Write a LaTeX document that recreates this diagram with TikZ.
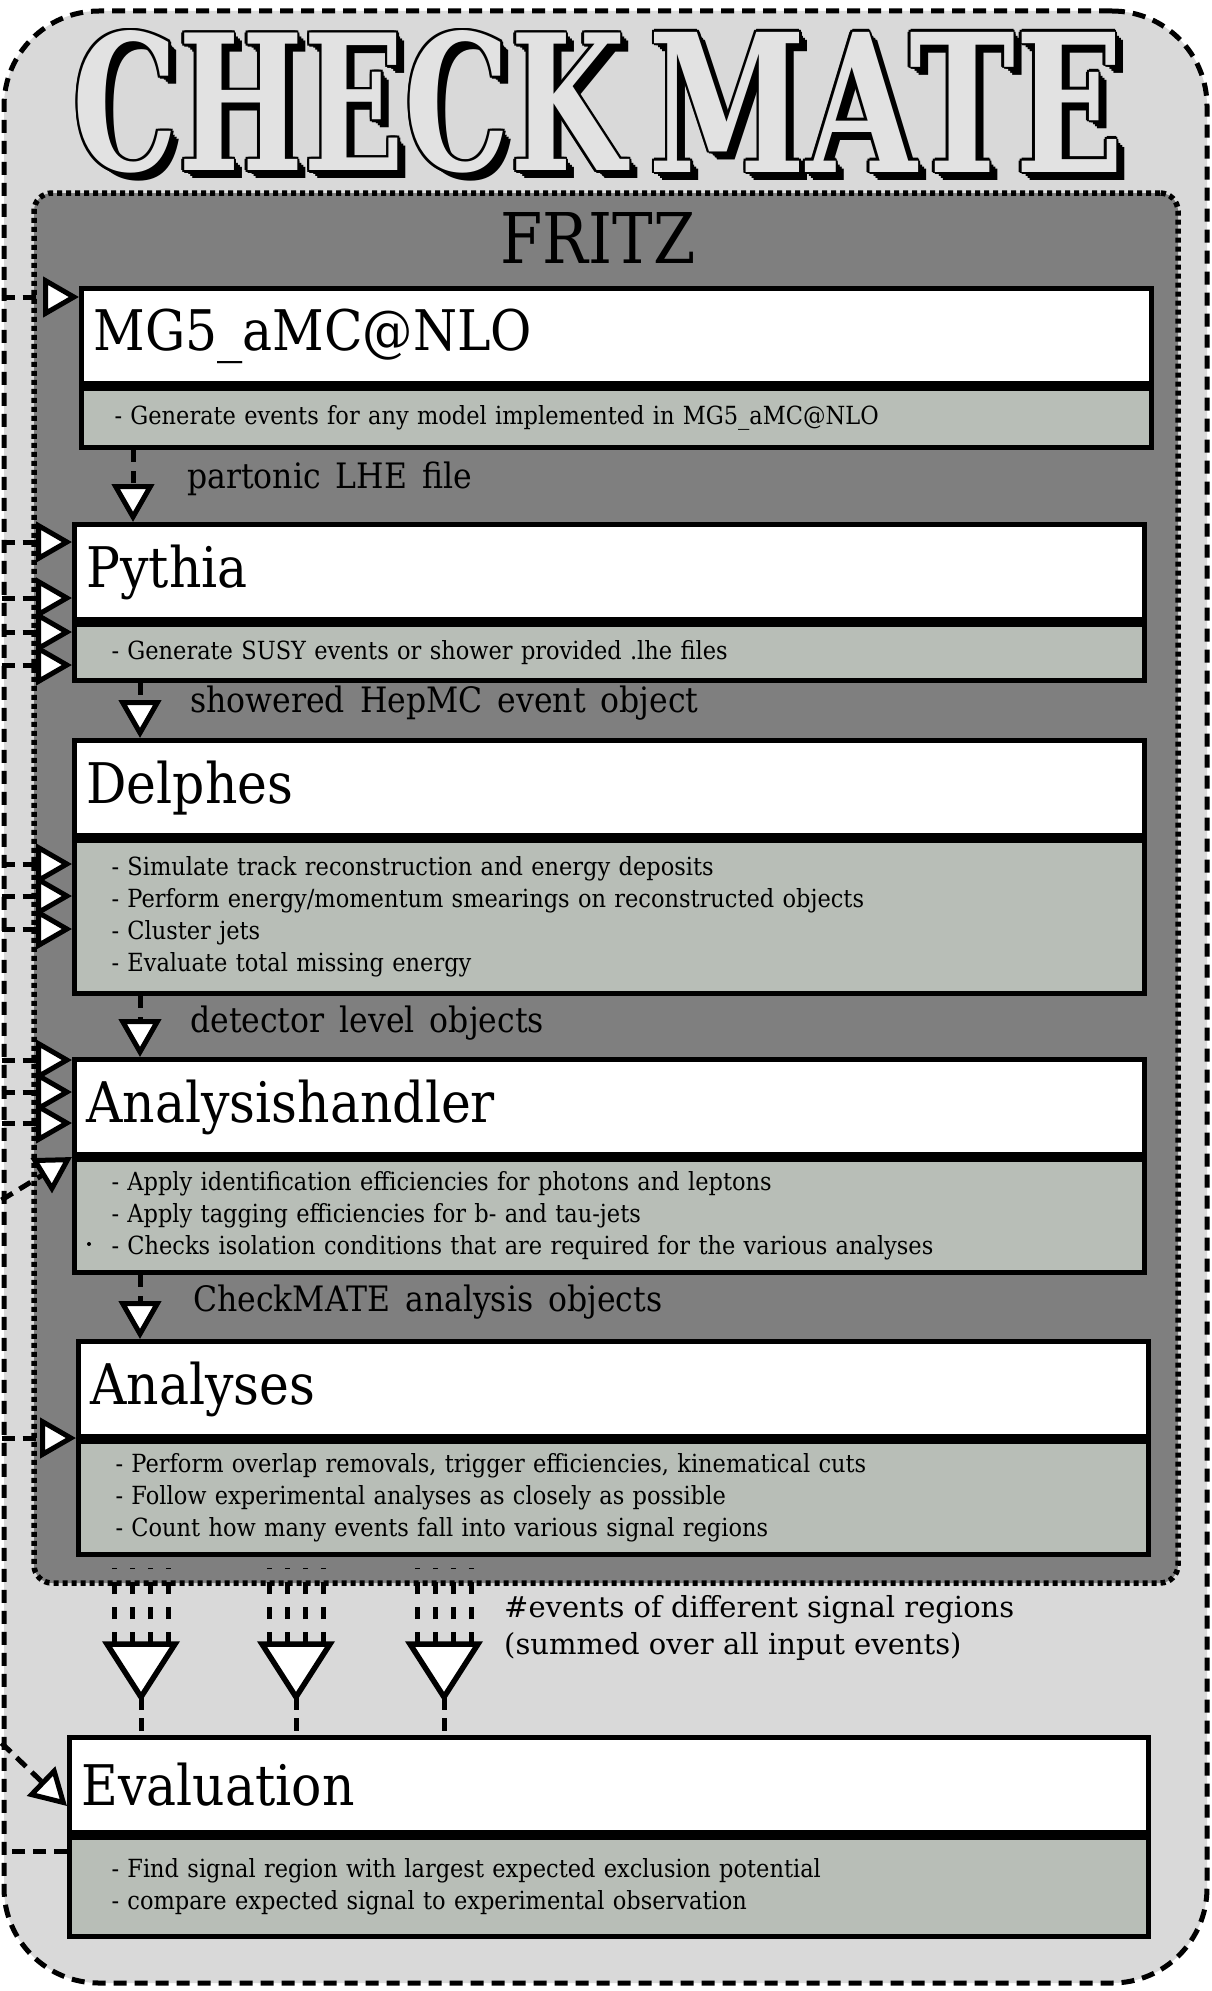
\documentclass[tikz,border=0pt]{standalone}
\usepackage{fontspec}
\usepackage{tikz}
\usetikzlibrary{positioning,arrows.meta}
\newfontfamily\cmfont{DejaVu Serif}
\newfontfamily\boxfont{DejaVu Serif}[FakeStretch=0.9]
\definecolor{framegray}{HTML}{D9D9D9}
\definecolor{fritzgray}{HTML}{7F7F7F}
\definecolor{descgray}{HTML}{B8BEB7}
\definecolor{lettergray}{HTML}{E2E2E2}
\newcommand{\titlefont}{\boxfont\fontsize{56}{64}\selectfont}
\newcommand{\descfont}{\boxfont\fontsize{25}{32}\selectfont\spaceskip=10pt plus 2pt\relax}
\newcommand{\labelfont}{\boxfont\fontsize{35}{40}\selectfont\spaceskip=15pt plus 2pt\relax}
\newcommand{\bigword}[2]{\resizebox{#1}{140pt}{\cmfont\bfseries #2}}
\tikzset{frame node/.style={draw,line width=5pt,dash pattern=on 13pt off 8pt,fill=framegray,rounded corners=95pt,minimum width=1203pt,minimum height=1972pt,inner sep=0pt}}
\tikzset{fritz node/.style={draw,line width=5.5pt,dash pattern=on 5pt off 4pt,fill=fritzgray,rounded corners=18pt,minimum width=1144pt,minimum height=1390pt,inner sep=0pt}}
\tikzset{title node/.style={draw,line width=5pt,fill=white,anchor=north west,text width=1046pt,inner xsep=12pt,inner ysep=0pt,minimum height=95pt,align=left,font=\titlefont}}
\tikzset{desc node/.style={draw,line width=5pt,fill=descgray,text width=996pt,inner xsep=37pt,inner ysep=0pt,align=left,font=\descfont}}
\tikzset{label node/.style={anchor=west,inner sep=0pt,font=\labelfont}}
\tikzset{big letters/.style={inner sep=0pt,text=black}}
\tikzset{flow arrow/.style={line width=5pt,dash pattern=on 12pt off 9pt,-{Triangle[length=38pt,width=42pt,fill=white]}}}
\tikzset{feed arrow/.style={line width=5pt,dash pattern=on 13pt off 8pt,-{Triangle[length=36pt,width=40pt,fill=white]}}}
\tikzset{feed line/.style={line width=5pt,dash pattern=on 13pt off 8pt}}
\tikzset{fan line/.style={line width=5pt,dash pattern=on 12pt off 13pt}}
\tikzset{fan head/.style={line width=5.5pt,fill=white,line join=miter}}

\begin{document}
\begin{tikzpicture}[x=1pt,y=-1pt]
        \fill[white] (0,0) rectangle (1211,1991);
        \useasboundingbox (0,0) rectangle (1211,1991);

        % frames
        \node[frame node] (cm) at (605.5,997) {};
        \node[fritz node] (fritz) at (606,888) {};

        % CHECKMATE lettering: shadow, outline, face
        \foreach \w/\cx/\wordw in {CHECK/349/552pt,MATE/886/475pt} {
            \foreach \s in {2,4,6,8}
                \node[big letters] at (\cx+\s,102+\s) {\bigword{\wordw}{\w}};
            \foreach \ox/\oy in {-2.5/0,2.5/0,0/-2.5,0/2.5,-1.8/-1.8,1.8/1.8,-1.8/1.8,1.8/-1.8}
                \node[big letters] at (\cx+\ox,102+\oy) {\bigword{\wordw}{\w}};
            \node[big letters,text=lettergray] (\w) at (\cx,102) {\bigword{\wordw}{\w}};
        }
        \node[inner sep=0pt] (fritzlabel) at (598,238) {\resizebox{195pt}{51pt}{\boxfont FRITZ}};

        % boxes
        \node[title node] (mg) at (79,286) {MG5\_aMC@NLO};
        \node[desc node,minimum height=59pt,inner xsep=33pt,text width=1004pt] (mgd) [below=0pt of mg] {- Generate events for any model implemented in MG5\_aMC@NLO};
        \node[title node] (py) at (72,522) {Pythia};
        \node[desc node,minimum height=56pt] (pyd) [below=0pt of py] {- Generate SUSY events or shower provided .lhe files};
        \node[title node] (de) at (72,738) {Delphes};
        \node[desc node,minimum height=153pt] (ded) [below=0pt of de] {- Simulate track reconstruction and energy deposits\\- Perform energy/momentum smearings on reconstructed objects\\- Cluster jets\\- Evaluate total missing energy};
        \node[title node] (ah) at (72,1057) {Analysishandler};
        \node[desc node,minimum height=113pt] (ahd) [below=0pt of ah] {- Apply identification efficiencies for photons and leptons\\- Apply tagging efficiencies for b- and tau-jets\\- Checks isolation conditions that are required for the various analyses};
        \node[title node] (ana) at (76,1339) {Analyses};
        \node[desc node,minimum height=113pt] (anad) [below=0pt of ana] {- Perform overlap removals, trigger efficiencies, kinematical cuts\\- Follow experimental analyses as closely as possible\\- Count how many events fall into various signal regions};
        \node[title node,text width=1055pt] (ev) at (67,1735) {Evaluation};
        \node[desc node,minimum height=99pt,inner xsep=42pt,text width=995pt] (evd) [below=0pt of ev] {- Find signal region with largest expected exclusion potential\\- compare expected signal to experimental observation};
        \fill (89,1244) circle (2pt);

        % labels
        \node[label node] (lhe) at (187,479) {partonic LHE file};
        \node[label node] (hepmc) at (190,703) {showered HepMC event object};
        \node[label node] (detobj) at (190,1023) {detector level objects};
        \node[label node] (cmobj) at (193,1302) {CheckMATE analysis objects};
        \node[label node,anchor=north west,align=left,font=\cmfont\fontsize{29}{37}\selectfont] (nev) at (504,1595) {\#events of different signal regions\\(summed over all input events)};

        % chain
        \draw[flow arrow] (133,0 |- mgd.south) -- (133,0 |- py.north);
        \draw[flow arrow] (140,0 |- pyd.south) -- (140,0 |- de.north);
        \draw[flow arrow] (140,0 |- ded.south) -- (140,0 |- ah.north);
        \draw[flow arrow] (140,0 |- ahd.south) -- (140,0 |- ana.north);

        % inputs from outside
        \draw[feed arrow] (cm.west |- 0,297) -- (mg.west |- 0,297);
        \foreach \y in {542,598,632,665}
            \draw[feed arrow] (cm.west |- 0,\y) -- (py.west |- 0,\y);
        \foreach \y in {864,896,929}
            \draw[feed arrow] (cm.west |- 0,\y) -- (de.west |- 0,\y);
        \foreach \y in {1060,1092,1123}
            \draw[feed arrow] (cm.west |- 0,\y) -- (ah.west |- 0,\y);
        \draw[feed arrow] (cm.west |- 0,1200) -- (ah.south west);
        \draw[feed arrow] (cm.west |- 0,1438) -- (ana.west |- 0,1438);
        \draw[feed arrow] (cm.west |- 0,1743) -- (ev.west |- 0,1806);
        \draw[feed line] (evd.west |- 0,1851) -- (cm.west |- 0,1851);

        % signal region counts
        \foreach \cx [count=\i] in {141,296,444} {
            \foreach \dx in {-27,-9,9,27}
                \draw[fan line] (\cx+\dx,1644) -- (\cx+\dx,1568);
            \draw[fan head] (\cx-34,1644) -- (\cx+34,1644) -- (\cx,1697) -- cycle;
            \coordinate (tip\i) at (\cx,1697);
            \draw[feed line] (tip\i) -- (tip\i |- ev.north);
        }
    \end{tikzpicture}
\end{document}
